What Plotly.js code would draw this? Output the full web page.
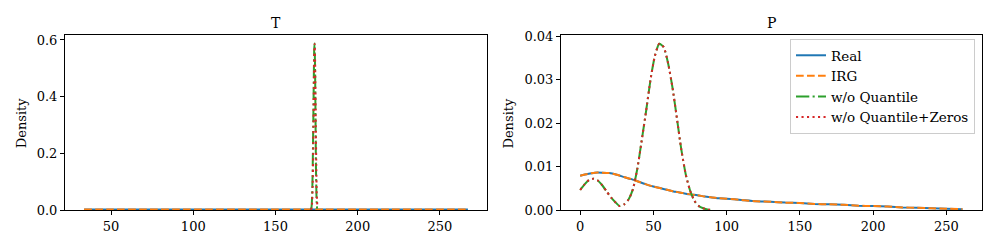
<!DOCTYPE html>
<html>
<head>
<meta charset="utf-8">
<script src="https://cdn.plot.ly/plotly-3.0.1.min.js"></script>
<style>html,body{margin:0;padding:0;background:#fff;}#chart{width:997px;height:249px;}</style>
</head>
<body>
<div id="chart"></div>
<script>
// ---- Panel T ----
const tRealX = [33.6, 50, 70, 90, 110, 130, 150, 165, 172, 175, 180, 200, 220, 240, 255, 267];
const tRealY = [0.0015, 0.0015, 0.0015, 0.0015, 0.0015, 0.0015, 0.0015, 0.0015, 0.0016, 0.0016, 0.0015, 0.0015, 0.0015, 0.0015, 0.0015, 0.0015];
const tIrgX  = [33.6, 50, 70, 90, 110, 130, 150, 165, 172, 175, 180, 200, 220, 240, 255, 267];
const tIrgY  = [0.0015, 0.0015, 0.0015, 0.0015, 0.0015, 0.0015, 0.0015, 0.0015, 0.0016, 0.0016, 0.0015, 0.0015, 0.0015, 0.0015, 0.0015, 0.0015];
const tNoQX  = [171.4, 171.9, 172.4, 172.8, 173.2, 173.5, 173.7, 174.0, 174.3, 174.6, 175.0, 175.3];
const tNoQY  = [0.000, 0.010, 0.080, 0.230, 0.420, 0.560, 0.588, 0.520, 0.350, 0.150, 0.030, 0.005];
const tNoQZX = [171.6, 172.1, 172.6, 173.0, 173.3, 173.6, 173.8, 174.1, 174.4, 174.8, 175.1, 175.4];
const tNoQZY = [0.000, 0.012, 0.085, 0.240, 0.430, 0.565, 0.586, 0.520, 0.360, 0.160, 0.050, 0.020];

// ---- Panel P ----
const pRealX = [0,5,10,15,20,25,30,35,40,45,50,55,60,65,70,75,80,85,90,95,100,110,120,130,140,150,160,170,180,190,200,210,220,230,240,250,261];
const pRealY = [0.0079,0.0083,0.0086,0.0086,0.0085,0.0081,0.0076,0.0071,0.0065,0.0059,0.0054,0.0050,0.0046,0.0042,0.0039,0.0036,0.0034,0.0031,0.0029,0.0027,0.0026,0.0023,0.0020,0.0019,0.0017,0.0016,0.0014,0.0013,0.0012,0.0010,0.0009,0.0008,0.0006,0.0005,0.0004,0.0003,0.0002];
const pIrgX  = [0,5,10,15,20,25,30,35,40,45,50,55,60,65,70,75,80,85,90,95,100,110,120,130,140,150,160,170,180,190,200,210,220,230,240,250,261];
const pIrgY  = [0.0079,0.0083,0.0086,0.0086,0.0085,0.0081,0.0076,0.0071,0.0065,0.0059,0.0054,0.0050,0.0046,0.0042,0.0039,0.0036,0.0034,0.0031,0.0029,0.0027,0.0026,0.0023,0.0020,0.0019,0.0017,0.0016,0.0014,0.0013,0.0012,0.0010,0.0009,0.0008,0.0006,0.0005,0.0004,0.0003,0.0002];
const pNoQX  = [0,3,6,9,12,15,18,21,24,27,30,33,36,39,42,45,48,51,54,57,60,63,66,69,72,75,78,81,84,87,90];
const pNoQY  = [0.0046,0.0059,0.0069,0.0072,0.0068,0.0057,0.0043,0.0029,0.0018,0.0009,0.0013,0.0024,0.0048,0.0095,0.0160,0.0228,0.0300,0.0355,0.0383,0.0375,0.0338,0.0282,0.0212,0.0140,0.0083,0.0045,0.0021,0.0009,0.0004,0.0001,0.0000];
const pNoQZX = [0,3,6,9,12,15,18,21,24,27,30,33,36,39,42,45,48,51,54,57,60,63,66,69,72,75,78,81,84,87,90];
const pNoQZY = [0.0046,0.0059,0.0069,0.0072,0.0068,0.0057,0.0043,0.0029,0.0018,0.0009,0.0013,0.0024,0.0048,0.0095,0.0160,0.0228,0.0300,0.0355,0.0383,0.0375,0.0338,0.0282,0.0212,0.0140,0.0083,0.0045,0.0021,0.0009,0.0004,0.0001,0.0000];

const seriesNames = ['Real', 'IRG', 'w/o Quantile', 'w/o Quantile+Zeros'];
const tTickVals = [50, 100, 150, 200, 250];
const pTickVals = [0, 50, 100, 150, 200, 250];
const tYTicks = [0.0, 0.2, 0.4, 0.6];
const pYTicks = [0.00, 0.01, 0.02, 0.03, 0.04];

const colors = ['#1f77b4', '#ff7f0e', '#2ca02c', '#d62728'];
const dashes = ['solid', '7.7px,3.3px', '13.3px,3.3px,2.1px,3.3px', '2.1px,3.4px'];
const LW = 2;

function tr(x, y, i, xa, ya, show) {
  return {x: x, y: y, type: 'scatter', mode: 'lines', name: seriesNames[i],
    xaxis: xa, yaxis: ya, showlegend: show, hoverinfo: 'skip',
    line: {color: colors[i], width: LW, dash: dashes[i], shape: 'spline', smoothing: 0.6}};
}

const data = [
  tr(tRealX, tRealY, 0, 'x', 'y', false),
  tr(tIrgX, tIrgY, 1, 'x', 'y', false),
  tr(tNoQX, tNoQY, 2, 'x', 'y', false),
  tr(tNoQZX, tNoQZY, 3, 'x', 'y', false),
  tr(pRealX, pRealY, 0, 'x2', 'y2', true),
  tr(pIrgX, pIrgY, 1, 'x2', 'y2', true),
  tr(pNoQX, pNoQY, 2, 'x2', 'y2', true),
  tr(pNoQZX, pNoQZY, 3, 'x2', 'y2', true)
];

const FONT = 'DejaVu Serif';
const tickFont = {family: FONT, size: 13, color: '#000'};
const axCommon = {showgrid: false, zeroline: false, showline: true, mirror: true, linecolor: '#000', linewidth: 1,
  ticks: 'outside', ticklen: 4, tickwidth: 1, tickcolor: '#000', tickfont: tickFont, automargin: false, fixedrange: true};
const yDom = [1 - 210/249, 1 - 35/249];

const layout = {
  width: 997, height: 249,
  margin: {l: 0, r: 0, t: 0, b: 0},
  paper_bgcolor: '#fff', plot_bgcolor: '#fff',
  font: {family: FONT, size: 13, color: '#000'},
  xaxis: Object.assign({}, axCommon, {domain: [65/997, 487/997], range: [22.0, 278.6], tickvals: tTickVals, anchor: 'y'}),
  yaxis: Object.assign({}, axCommon, {domain: yDom, range: [0, 0.6176], tickvals: tYTicks, tickformat: '.1f', anchor: 'x'}),
  xaxis2: Object.assign({}, axCommon, {domain: [561/997, 982/997], range: [-13.1, 274.3], tickvals: pTickVals, anchor: 'y2'}),
  yaxis2: Object.assign({}, axCommon, {domain: yDom, range: [0, 0.0403], tickvals: pYTicks, tickformat: '.2f', anchor: 'x2'}),
  showlegend: true,
  legend: {x: 975/997, xanchor: 'right', y: 1 - 39/249, yanchor: 'top', bgcolor: '#fff', bordercolor: '#cccccc', borderwidth: 1,
    font: {family: FONT, size: 13.5, color: '#000'}, itemwidth: 30, tracegroupgap: 0, traceorder: 'normal'},
  annotations: [
    {text: 'T', xref: 'paper', yref: 'paper', x: 276/997, y: 1 - 23/249, xanchor: 'center', yanchor: 'middle', showarrow: false, font: {family: FONT, size: 14}},
    {text: 'P', xref: 'paper', yref: 'paper', x: 771.5/997, y: 1 - 23/249, xanchor: 'center', yanchor: 'middle', showarrow: false, font: {family: FONT, size: 14}},
    {text: 'Density', xref: 'paper', yref: 'paper', x: 21.7/997, y: 1 - 122.5/249, xanchor: 'center', yanchor: 'middle', textangle: -90, showarrow: false, font: {family: FONT, size: 13}},
    {text: 'Density', xref: 'paper', yref: 'paper', x: 508/997, y: 1 - 122.5/249, xanchor: 'center', yanchor: 'middle', textangle: -90, showarrow: false, font: {family: FONT, size: 13}}
  ]
};

Plotly.newPlot('chart', data, layout, {staticPlot: true, displayModeBar: false});
</script>
</body>
</html>
